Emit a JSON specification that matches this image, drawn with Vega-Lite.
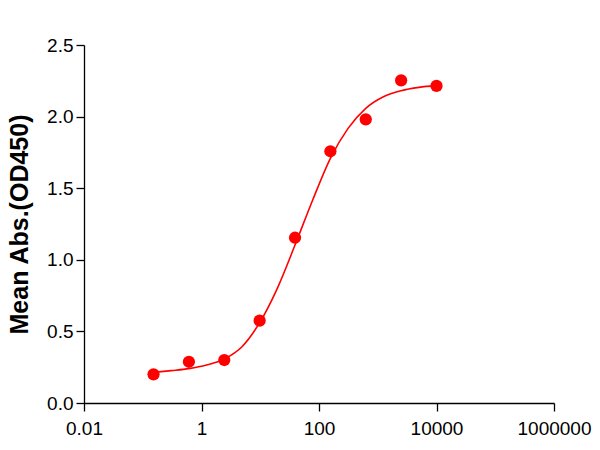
{
  "$schema": "https://vega.github.io/schema/vega-lite/v6.json",
  "autosize": "none",
  "width": 470,
  "height": 358,
  "padding": {"left": 84, "top": 45, "right": 46, "bottom": 47},
  "background": "white",
  "config": {
    "view": {"stroke": null},
    "axis": {
      "grid": false,
      "domainColor": "black",
      "tickColor": "black",
      "domainWidth": 1.3,
      "tickWidth": 1.3,
      "tickSize": 8,
      "labelColor": "black",
      "labelFont": "Liberation Sans",
      "labelFontSize": 19,
      "titleFont": "Liberation Sans",
      "titleColor": "black"
    }
  },
  "datasets": {
    "points": [
      {"conc": 0.152587890625, "od": 0.200},
      {"conc": 0.6103515625, "od": 0.288},
      {"conc": 2.44140625, "od": 0.300},
      {"conc": 9.765625, "od": 0.575},
      {"conc": 39.0625, "od": 1.154},
      {"conc": 156.25, "od": 1.758},
      {"conc": 625, "od": 1.981},
      {"conc": 2500, "od": 2.253},
      {"conc": 10000, "od": 2.214}
    ],
    "curve": [
      {"conc": 0.152588, "od": 0.214},
      {"conc": 0.305176, "od": 0.226},
      {"conc": 0.610352, "od": 0.240},
      {"conc": 1.220703, "od": 0.265},
      {"conc": 2.441406, "od": 0.307},
      {"conc": 4.882813, "od": 0.393},
      {"conc": 9.765625, "od": 0.561},
      {"conc": 19.53125, "od": 0.801},
      {"conc": 39.0625, "od": 1.103},
      {"conc": 78.125, "od": 1.418},
      {"conc": 156.25, "od": 1.709},
      {"conc": 312.5, "od": 1.918},
      {"conc": 625, "od": 2.058},
      {"conc": 1250, "od": 2.139},
      {"conc": 2500, "od": 2.181},
      {"conc": 5000, "od": 2.204},
      {"conc": 10000, "od": 2.216}
    ]
  },
  "layer": [
    {
      "data": {"name": "curve"},
      "mark": {"type": "line", "color": "#ff0000", "strokeWidth": 1.6, "interpolate": "monotone", "clip": false},
      "encoding": {
        "x": {
          "field": "conc", "type": "quantitative",
          "scale": {"type": "log", "domain": [0.01, 1000000], "nice": false},
          "axis": {
            "title": null,
            "values": [0.01, 1, 100, 10000, 1000000],
            "labelExpr": "datum.value < 1 ? '0.01' : format(datum.value, 'd')",
            "labelPadding": 8,
            "labelFlush": false
          }
        },
        "y": {
          "field": "od", "type": "quantitative",
          "scale": {"domain": [0, 2.5], "nice": false},
          "axis": {
            "title": "Mean Abs.(OD450)",
            "titleFontSize": 25,
            "titleFontWeight": "bold",
            "titlePadding": 14,
            "values": [0, 0.5, 1, 1.5, 2, 2.5],
            "format": ".1f",
            "labelPadding": 3
          }
        }
      }
    },
    {
      "data": {"name": "points"},
      "mark": {"type": "point", "filled": true, "shape": "circle", "size": 150, "color": "#ff0000", "opacity": 1, "clip": false},
      "encoding": {
        "x": {"field": "conc", "type": "quantitative"},
        "y": {"field": "od", "type": "quantitative"}
      }
    }
  ]
}
